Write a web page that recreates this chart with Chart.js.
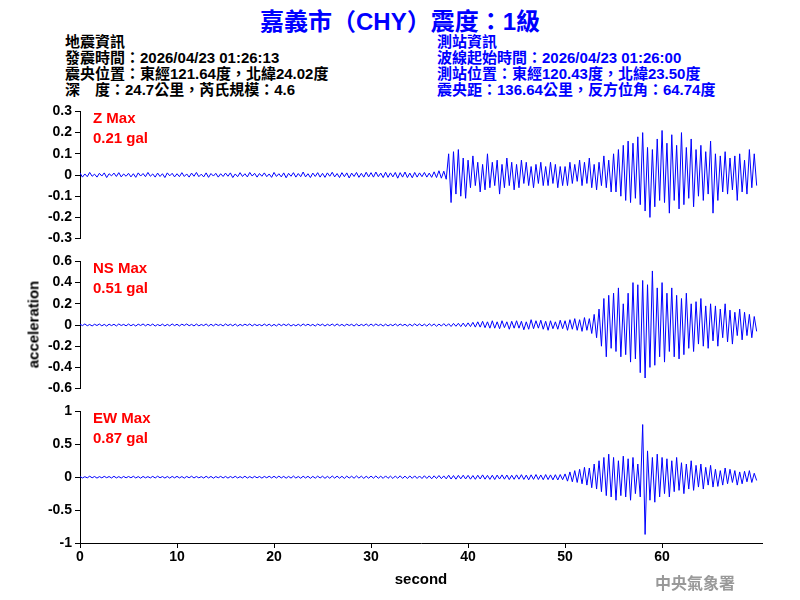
<!DOCTYPE html>
<html>
<head>
<meta charset="utf-8">
<script src="https://cdn.jsdelivr.net/npm/chart.js@4"></script>
<style>
  body { margin:0; width:800px; height:600px; background:#fff; position:relative; overflow:hidden;
         font-family:"Liberation Sans","Noto Sans CJK TC",sans-serif; font-weight:bold; }
  .t { position:absolute; white-space:nowrap; }
  canvas { position:absolute; left:0; }
  .info { font-size:15px; line-height:16px; }
  .lbl { color:#f00; font-size:15px; line-height:20px; }
</style>
</head>
<body>
<div class="t" style="left:0;width:800px;text-align:center;top:2px;font-size:24px;color:#0000ff;">嘉義市（CHY）震度：1級</div>
<div class="t info" style="left:65px;top:34px;">地震資訊<br>發震時間：2026/04/23 01:26:13<br>震央位置：東經121.64度，北緯24.02度<br>深　度：24.7公里，芮氏規模：4.6</div>
<div class="t info" style="left:437px;top:34px;color:#0000ff;">測站資訊<br>波線起始時間：2026/04/23 01:26:00<br>測站位置：東經120.43度，北緯23.50度<br>震央距：136.64公里，反方位角：64.74度</div>

<canvas id="cz" style="top:100px" width="800" height="150"></canvas>
<canvas id="cn" style="top:250px" width="800" height="150"></canvas>
<canvas id="ce" style="top:400px" width="800" height="200"></canvas>

<div class="t lbl" style="left:93px;top:108px;">Z Max<br>0.21 gal</div>
<div class="t lbl" style="left:93px;top:258px;">NS Max<br>0.51 gal</div>
<div class="t lbl" style="left:93px;top:408px;">EW Max<br>0.87 gal</div>
<div class="t" style="left:-22px;top:316px;font-size:15px;transform:rotate(-90deg);width:110px;text-align:center;">acceleration</div>
<div class="t" style="left:655px;top:570px;font-size:16px;color:#999;font-family:'Noto Sans CJK TC';">中央氣象署</div>

<script>
const dt = 0.25;
const zAcc = [
0.01,-0.01,0.005,-0.008,0.012,-0.006,0.004,-0.01,0.008,-0.005,0.01,-0.012,0.006,-0.004,0.009,-0.007,0.011,-0.009,0.005,-0.006,
0.008,-0.009,0.006,-0.011,0.01,-0.005,0.007,-0.008,0.012,-0.006,0.005,-0.01,0.009,-0.007,0.006,-0.012,0.01,-0.004,0.008,-0.009,
0.006,-0.008,0.011,-0.007,0.005,-0.01,0.009,-0.006,0.012,-0.008,0.004,-0.009,0.01,-0.011,0.007,-0.005,0.008,-0.01,0.006,-0.007,
0.009,-0.006,0.01,-0.012,0.005,-0.008,0.011,-0.007,0.006,-0.009,0.012,-0.005,0.008,-0.01,0.007,-0.006,0.01,-0.008,0.005,-0.011,
0.012,-0.007,0.006,-0.009,0.01,-0.013,0.008,-0.006,0.011,-0.01,0.007,-0.008,0.014,-0.009,0.006,-0.012,0.009,-0.007,0.011,-0.01,
0.008,-0.011,0.01,-0.006,0.013,-0.009,0.007,-0.012,0.011,-0.008,0.01,-0.014,0.009,-0.007,0.012,-0.011,0.008,-0.01,0.013,-0.009,
0.011,-0.01,0.014,-0.008,0.009,-0.012,0.013,-0.011,0.01,-0.009,0.012,-0.015,0.011,-0.01,0.014,-0.012,0.009,-0.013,0.012,-0.01,
0.01,-0.008,0.012,-0.01,0.009,-0.011,0.015,-0.012,0.02,-0.015,0.018,-0.02,0.1,-0.13,0.11,-0.09,0.12,-0.1,0.08,-0.11,
0.07,-0.06,0.09,-0.05,0.06,-0.08,0.05,-0.07,0.1,-0.06,0.06,-0.05,0.07,-0.09,0.05,-0.06,0.08,-0.05,0.06,-0.07,
0.05,-0.06,0.07,-0.04,0.06,-0.05,0.04,-0.06,0.05,-0.04,0.06,-0.05,0.04,-0.05,0.06,-0.04,0.05,-0.06,0.04,-0.05,
0.04,-0.05,0.06,-0.04,0.05,-0.03,0.07,-0.05,0.06,-0.04,0.08,-0.06,0.05,-0.07,0.06,-0.05,0.09,-0.06,0.07,-0.08,
0.1,-0.08,0.12,-0.1,0.14,-0.12,0.16,-0.13,0.15,-0.11,0.18,-0.14,0.2,-0.17,0.13,-0.2,0.12,-0.15,0.17,-0.12,
0.21,-0.13,0.15,-0.18,0.19,-0.12,0.14,-0.16,0.2,-0.14,0.13,-0.11,0.17,-0.15,0.12,-0.1,0.14,-0.12,0.11,-0.09,
0.16,-0.18,0.1,-0.12,0.09,-0.08,0.11,-0.09,0.08,-0.07,0.09,-0.12,0.1,-0.08,0.07,-0.09,0.12,-0.06,0.1,-0.05
];
const nsAcc = [
0.008,-0.006,0.01,-0.007,0.005,-0.009,0.007,-0.005,0.009,-0.008,0.006,-0.01,0.008,-0.006,0.007,-0.009,0.01,-0.005,0.006,-0.008,
0.009,-0.007,0.006,-0.01,0.008,-0.005,0.01,-0.008,0.007,-0.006,0.009,-0.01,0.005,-0.007,0.008,-0.009,0.006,-0.008,0.01,-0.006,
0.007,-0.009,0.008,-0.005,0.01,-0.007,0.006,-0.009,0.009,-0.008,0.005,-0.006,0.01,-0.01,0.007,-0.008,0.009,-0.005,0.006,-0.009,
0.01,-0.006,0.007,-0.008,0.009,-0.01,0.006,-0.007,0.008,-0.005,0.01,-0.009,0.007,-0.006,0.005,-0.008,0.009,-0.007,0.008,-0.01,
0.006,-0.009,0.01,-0.007,0.008,-0.006,0.009,-0.01,0.005,-0.008,0.007,-0.009,0.01,-0.006,0.008,-0.007,0.006,-0.01,0.009,-0.005,
0.008,-0.01,0.007,-0.006,0.009,-0.008,0.01,-0.007,0.006,-0.009,0.008,-0.005,0.007,-0.01,0.009,-0.008,0.006,-0.007,0.01,-0.009,
0.009,-0.008,0.01,-0.006,0.007,-0.01,0.008,-0.009,0.006,-0.007,0.01,-0.008,0.009,-0.006,0.007,-0.01,0.008,-0.009,0.011,-0.007,
0.01,-0.009,0.008,-0.011,0.012,-0.008,0.01,-0.012,0.009,-0.01,0.013,-0.011,0.012,-0.014,0.015,-0.012,0.016,-0.015,0.018,-0.016,
0.02,-0.015,0.025,-0.02,0.03,-0.02,0.035,-0.025,0.03,-0.03,0.04,-0.03,0.03,-0.035,0.04,-0.025,0.03,-0.04,0.035,-0.03,
0.04,-0.03,0.035,-0.045,0.03,-0.04,0.05,-0.035,0.04,-0.03,0.045,-0.04,0.035,-0.05,0.04,-0.035,0.03,-0.04,0.045,-0.035,
0.04,-0.05,0.05,-0.04,0.06,-0.05,0.05,-0.06,0.07,-0.05,0.06,-0.08,0.1,-0.12,0.15,-0.2,0.25,-0.3,0.28,-0.22,
0.3,-0.25,0.35,-0.3,0.2,-0.28,0.3,-0.35,0.4,-0.32,0.38,-0.45,0.42,-0.5,0.38,-0.4,0.51,-0.38,0.35,-0.3,
0.4,-0.35,0.3,-0.25,0.35,-0.3,0.28,-0.32,0.25,-0.28,0.3,-0.22,0.2,-0.25,0.22,-0.18,0.25,-0.2,0.18,-0.22,
0.2,-0.15,0.18,-0.2,0.15,-0.12,0.2,-0.16,0.14,-0.18,0.12,-0.1,0.15,-0.14,0.12,-0.1,0.1,-0.12,0.08,-0.06
];
const ewAcc = [
0.01,-0.012,0.008,-0.01,0.015,-0.009,0.011,-0.014,0.009,-0.01,0.013,-0.008,0.01,-0.012,0.014,-0.011,0.009,-0.013,0.012,-0.01,
0.011,-0.009,0.014,-0.012,0.01,-0.015,0.012,-0.01,0.009,-0.011,0.013,-0.012,0.015,-0.009,0.01,-0.013,0.011,-0.014,0.012,-0.01,
0.013,-0.011,0.01,-0.014,0.012,-0.009,0.015,-0.012,0.011,-0.01,0.009,-0.013,0.014,-0.011,0.012,-0.015,0.01,-0.009,0.013,-0.012,
0.012,-0.014,0.011,-0.01,0.014,-0.012,0.009,-0.011,0.015,-0.013,0.01,-0.012,0.013,-0.01,0.011,-0.014,0.012,-0.009,0.014,-0.011,
0.014,-0.012,0.016,-0.011,0.013,-0.015,0.012,-0.014,0.017,-0.013,0.011,-0.016,0.015,-0.012,0.014,-0.017,0.013,-0.015,0.016,-0.012,
0.015,-0.017,0.013,-0.016,0.018,-0.014,0.016,-0.015,0.014,-0.018,0.017,-0.013,0.015,-0.016,0.019,-0.014,0.016,-0.018,0.014,-0.015,
0.017,-0.015,0.019,-0.016,0.015,-0.018,0.02,-0.017,0.016,-0.019,0.018,-0.016,0.021,-0.018,0.017,-0.02,0.019,-0.017,0.02,-0.019,
0.018,-0.02,0.022,-0.019,0.02,-0.024,0.021,-0.02,0.025,-0.022,0.02,-0.025,0.03,-0.028,0.025,-0.03,0.028,-0.025,0.03,-0.027,
0.028,-0.03,0.025,-0.032,0.03,-0.027,0.035,-0.03,0.028,-0.033,0.03,-0.035,0.032,-0.028,0.035,-0.03,0.033,-0.036,0.03,-0.032,
0.035,-0.03,0.038,-0.034,0.032,-0.04,0.036,-0.033,0.04,-0.035,0.034,-0.038,0.04,-0.036,0.035,-0.04,0.038,-0.042,0.04,-0.038,
0.05,-0.06,0.08,-0.07,0.1,-0.08,0.12,-0.1,0.15,-0.12,0.14,-0.16,0.2,-0.18,0.25,-0.22,0.3,-0.28,0.35,-0.3,
0.3,-0.35,0.25,-0.28,0.32,-0.3,0.28,-0.35,0.3,-0.25,0.2,-0.3,0.8,-0.87,0.4,-0.35,0.3,-0.38,0.35,-0.3,
0.3,-0.25,0.28,-0.3,0.25,-0.22,0.3,-0.2,0.22,-0.25,0.2,-0.18,0.25,-0.2,0.18,-0.15,0.2,-0.18,0.15,-0.12,
0.18,-0.15,0.12,-0.14,0.1,-0.12,0.14,-0.1,0.12,-0.08,0.1,-0.12,0.08,-0.1,0.09,-0.07,0.1,-0.08,0.06,-0.05
];
const zTicks = [-0.3,-0.2,-0.1,0,0.1,0.2,0.3];
const nsTicks = [-0.6,-0.4,-0.2,0,0.2,0.4,0.6];
const ewTicks = [-1,-0.5,0,0.5,1];
const xTicks = [0,10,20,30,40,50,60];

const tickFont = { family: "Liberation Sans", size: 14, weight: "bold" };

function buildChart(id, values, ticks, showX) {
  const pts = values.map((v, i) => ({ x: i * dt, y: v }));
  return new Chart(document.getElementById(id), {
    type: "line",
    data: { datasets: [{ data: pts, borderColor: "#0000ff", borderWidth: 1, pointRadius: 0, tension: 0 }] },
    options: {
      responsive: false, animation: false,
      layout: { padding: { top: 8, bottom: 7, right: 38, left: 0 } },
      plugins: { legend: { display: false }, tooltip: { enabled: false } },
      scales: {
        x: {
          type: "linear", min: 0, max: 70.3, display: showX,
          afterBuildTicks: s => { s.ticks = xTicks.map(v => ({ value: v })); },
          afterFit: s => { if (showX) s.height = 50; },
          grid: { drawOnChartArea: false, color: "#000", tickLength: 5 },
          border: { color: "#000" },
          ticks: { color: "#000", font: tickFont, padding: 1, maxRotation: 0 },
          title: { display: showX, text: "second", color: "#000", font: { family: "Liberation Sans", size: 15, weight: "bold" }, padding: { top: 6 } }
        },
        y: {
          min: ticks[0], max: ticks[ticks.length - 1],
          afterBuildTicks: s => { s.ticks = ticks.map(v => ({ value: v })); },
          afterFit: s => { s.width = 80; },
          grid: { drawOnChartArea: false, color: "#000", tickLength: 5 },
          border: { color: "#000" },
          ticks: { color: "#000", font: tickFont, padding: 3, callback: v => String(v) }
        }
      }
    }
  });
}

buildChart("cz", zAcc, zTicks, false);
buildChart("cn", nsAcc, nsTicks, false);
buildChart("ce", ewAcc, ewTicks, true);
</script>
</body>
</html>
